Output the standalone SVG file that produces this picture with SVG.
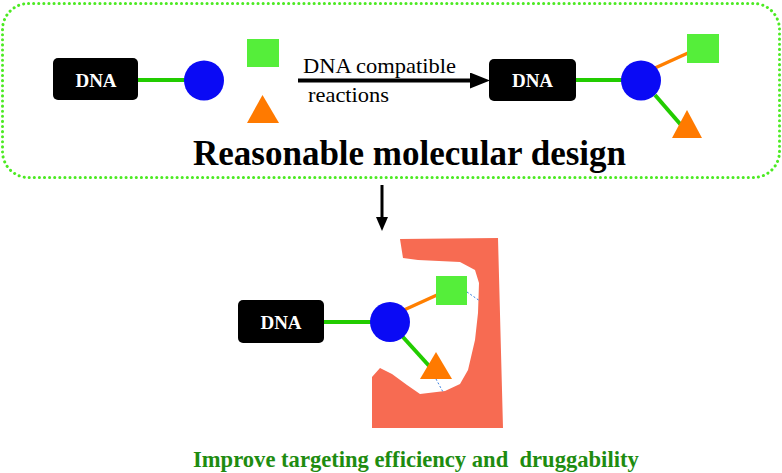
<svg xmlns="http://www.w3.org/2000/svg" width="782" height="473" viewBox="0 0 782 473">
<defs>
<style>
.dna{fill:#000;}
.dnat{font-weight:bold;font-size:19px;fill:#fff;text-anchor:middle;}
.gl{stroke:#22cc00;stroke-width:4;fill:none;}
.ol{stroke:#ff7f00;stroke-width:3.5;fill:none;}
.ball{fill:#0a0af5;}
.sq{fill:#55ee3a;}
.tri{fill:#ff7a00;}
.dash{stroke:#3a7fe0;stroke-width:1;stroke-dasharray:2 2;fill:none;}
</style>
<marker id="ah" markerWidth="5" markerHeight="4" refX="0" refY="2" orient="auto" markerUnits="strokeWidth">
<path d="M0,0 L5,2 L0,4 Z" fill="#000"/>
</marker>
</defs>
<rect width="782" height="473" fill="#fff"/>
<g id="frame">
<rect x="2.5" y="3.5" width="777" height="174" rx="26" ry="26" fill="none" stroke="#4cea22" stroke-width="3" stroke-dasharray="0.1 5" stroke-linecap="round"/>
</g>
<g id="protein">
<path d="M400,239 L498,238 L503,428 L372,428 L372,377 L380,368 L392,374 L407,385 L420,394 L445,391 L460,384 L468,370 L475,340 L478,313 L479,283 L475,270 L460,262 L418,260 L403,258 Z" fill="#f76b52"/>
</g>
<g id="connectors">
<line class="gl" x1="138" y1="80" x2="186" y2="80"/>
<line class="gl" x1="576" y1="80" x2="623" y2="80"/>
<line class="ol" x1="655" y1="68" x2="688" y2="53"/>
<line class="gl" x1="655" y1="95" x2="681" y2="125"/>
<line class="gl" x1="324" y1="322" x2="372" y2="322"/>
<line class="ol" x1="404" y1="310" x2="437" y2="295"/>
<line class="gl" x1="402" y1="336" x2="431" y2="368"/>
<line class="dash" x1="467" y1="292" x2="480" y2="301"/>
<line class="dash" x1="436" y1="379" x2="443" y2="392"/>
<line x1="298" y1="80.5" x2="470" y2="80.5" stroke="#000" stroke-width="4" marker-end="url(#ah)"/>
<line x1="382" y1="185" x2="382" y2="220" stroke="#000" stroke-width="3"/>
<path d="M376,217 L388,217 L382,231 Z" fill="#000"/>
</g>
<g id="reactants">
<g id="dna1"><rect class="dna" x="53" y="58" width="85" height="42" rx="5"/><text class="dnat" font-family="Liberation Serif, serif" x="96" y="86.5">DNA</text></g>
<circle id="ball1" class="ball" cx="204" cy="80.5" r="20"/>
<rect id="sq1" class="sq" x="247" y="39" width="32" height="28"/>
<polygon id="tri1" class="tri" points="262.5,95 247,123 279,123"/>
</g>
<g id="label-reaction" font-family="Liberation Serif, serif" fill="#000">
<text x="303" y="73" font-size="21.5" textLength="153" lengthAdjust="spacingAndGlyphs">DNA compatible</text>
<text x="308" y="102" font-size="21.5" textLength="81" lengthAdjust="spacingAndGlyphs">reactions</text>
</g>
<g id="product">
<g id="dna2"><rect class="dna" x="489" y="59" width="87" height="42" rx="5"/><text class="dnat" font-family="Liberation Serif, serif" x="532.5" y="87">DNA</text></g>
<circle id="ball2" class="ball" cx="641" cy="80.5" r="20"/>
<rect id="sq2" class="sq" x="687" y="34" width="32" height="29"/>
<polygon id="tri2" class="tri" points="687,110 672,138 702,138"/>
</g>
<g id="title">
<text x="193" y="165" font-family="Liberation Serif, serif" font-size="35" font-weight="bold" fill="#000">Reasonable molecular design</text>
</g>
<g id="bound">
<g id="dna3"><rect class="dna" x="238" y="300" width="86" height="43" rx="5"/><text class="dnat" font-family="Liberation Serif, serif" x="281" y="328.5">DNA</text></g>
<circle id="ball3" class="ball" cx="390" cy="322" r="20"/>
<rect id="sq3" class="sq" x="436" y="276" width="31" height="29"/>
<polygon id="tri3" class="tri" points="436,352 420,379 452,379"/>
</g>
<g id="caption">
<text x="193" y="467" font-family="Liberation Serif, serif" font-weight="bold" font-size="22.6" fill="#1e8c10" xml:space="preserve">Improve targeting efficiency and  druggability</text>
</g>
</svg>
